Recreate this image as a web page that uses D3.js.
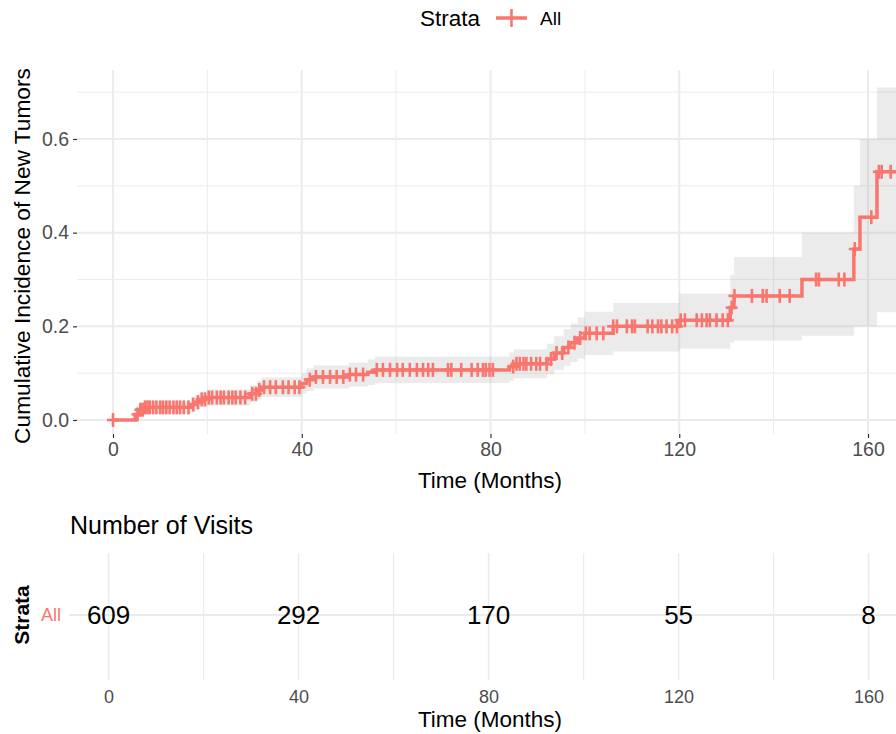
<!DOCTYPE html>
<html>
<head>
<meta charset="utf-8">
<script src="https://cdn.jsdelivr.net/npm/d3@7"></script>
<style>
  body { margin: 0; background: #fff; }
  text { font-family: "Liberation Sans", Arial, Helvetica, sans-serif; }
</style>
</head>
<body>
<svg id="chart" width="896" height="734"></svg>
<script>
// step function of the cumulative incidence (jump times + value after the jump)
var eventTimes = [0, 4.7, 5.5, 6.5, 16.5, 17.5, 18.5, 20, 29, 30.5, 31.5, 40, 41, 42.5, 50, 54, 55.5,
  84, 85, 92, 93.5, 95.5, 97, 98.5, 100, 106, 120, 130.8, 131.6, 146, 157, 158.3, 161.9];
var estimate = [0, 0.012, 0.022, 0.027, 0.033, 0.038, 0.044, 0.048, 0.056, 0.064, 0.07, 0.078, 0.086, 0.092, 0.097, 0.102, 0.107,
  0.114, 0.12, 0.13, 0.143, 0.155, 0.165, 0.175, 0.185, 0.2, 0.213, 0.24, 0.265, 0.30, 0.365, 0.433, 0.53];
var lower = [0, 0.003, 0.01, 0.014, 0.018, 0.022, 0.027, 0.031, 0.038, 0.044, 0.049, 0.056, 0.062, 0.067, 0.071, 0.075, 0.079,
  0.084, 0.089, 0.097, 0.107, 0.116, 0.124, 0.131, 0.139, 0.146, 0.152, 0.165, 0.17, 0.18, 0.2, 0.2, 0.23];
var upper = [0, 0.021, 0.034, 0.04, 0.048, 0.054, 0.061, 0.065, 0.074, 0.084, 0.091, 0.1, 0.11, 0.117, 0.123, 0.129, 0.135,
  0.144, 0.151, 0.163, 0.179, 0.194, 0.206, 0.219, 0.231, 0.25, 0.27, 0.31, 0.348, 0.40, 0.50, 0.60, 0.71];
var lastTime = 168;

// censored observations (the + marks)
var censorTimes = [0, 5.2, 5.8, 6.3, 6.8, 7.3, 7.8, 8.5, 9.2, 10, 10.6, 11.3, 12, 12.8, 13.5, 14.2, 15, 16, 17, 18, 18.8,
  19.5, 20.3, 21, 22, 22.8, 23.5, 24.5, 25.3, 26, 27, 28, 29.5, 30.3, 31, 32, 33.3, 34.5, 36, 37.2, 38.5, 39.5,
  41.7, 43, 44.5, 46, 47.4, 48.8, 50.2, 51.5, 53, 55.9, 57.2, 58.7, 60.2, 61.4, 62.9, 64.4, 65.7, 66.8, 67.8,
  71, 71.7, 73.8, 76, 77.3, 78.4, 79, 79.8, 80.5, 84.8, 85.5, 86.2, 87, 87.6, 88.6, 89.7, 90.5, 91.9, 92.8, 94,
  95.2, 96.5, 97.8, 99, 100.2, 101, 102.5, 103.9, 106, 106.8, 108.9, 110, 110.6, 113.3, 114.3, 115.5, 116.2,
  117.3, 118.5, 119.5, 120.3, 121.2, 123.7, 124.8, 125.8, 126.5, 127.9, 129.2, 130.3, 131.1, 131.7, 135.4,
  137.7, 138.5, 141.3, 143.4, 149, 149.6, 153.8, 155, 157.2, 160.7, 162.3, 162.9, 164.8];

// risk table
var riskTimes = [0, 40, 80, 120, 160];
var riskCounts = [609, 292, 170, 55, 8];

var xMajor = [0, 40, 80, 120, 160], xMinor = [20, 60, 100, 140];
var yMajor = [0, 0.2, 0.4, 0.6], yMinor = [0.1, 0.3, 0.5, 0.7];

var red = "#F8766D", grid = "#EBEBEB";
var svg = d3.select("#chart");

var x = d3.scaleLinear().domain([0, 160]).range([113, 868]),
    y = d3.scaleLinear().domain([0, 0.6]).range([420, 139]);
var panel = {left: 77, right: 896, top: 70, bottom: 434};

var steps = eventTimes.map(function(t, i) {
  return {t: t, est: estimate[i], lo: lower[i], hi: upper[i]};
});
steps.push({t: lastTime, est: estimate[estimate.length - 1], lo: lower[lower.length - 1], hi: upper[upper.length - 1]});

function valueAt(t) {
  var v = 0;
  steps.forEach(function(s) { if (s.t <= t) v = s.est; });
  return v;
}

var g = svg.append("g");

// grid
g.selectAll(".ymin").data(yMinor).enter().append("line")
  .attr("x1", panel.left).attr("x2", panel.right)
  .attr("y1", function(d) { return y(d); }).attr("y2", function(d) { return y(d); })
  .attr("stroke", grid).attr("stroke-width", 1);
g.selectAll(".xmin").data(xMinor).enter().append("line")
  .attr("y1", panel.top).attr("y2", panel.bottom)
  .attr("x1", function(d) { return x(d); }).attr("x2", function(d) { return x(d); })
  .attr("stroke", grid).attr("stroke-width", 1);
g.selectAll(".ymaj").data(yMajor).enter().append("line")
  .attr("x1", panel.left).attr("x2", panel.right)
  .attr("y1", function(d) { return y(d); }).attr("y2", function(d) { return y(d); })
  .attr("stroke", grid).attr("stroke-width", 2);
g.selectAll(".xmaj").data(xMajor).enter().append("line")
  .attr("y1", panel.top).attr("y2", panel.bottom)
  .attr("x1", function(d) { return x(d); }).attr("x2", function(d) { return x(d); })
  .attr("stroke", grid).attr("stroke-width", 2);

// confidence ribbon
var area = d3.area().curve(d3.curveStepAfter)
  .x(function(d) { return x(d.t); })
  .y0(function(d) { return y(d.lo); })
  .y1(function(d) { return y(d.hi); });
g.append("path").datum(steps).attr("d", area)
  .attr("fill", "#999999").attr("fill-opacity", 0.2);

// curve
var line = d3.line().curve(d3.curveStepAfter)
  .x(function(d) { return x(d.t); })
  .y(function(d) { return y(d.est); });
g.append("path").datum(steps).attr("d", line)
  .attr("fill", "none").attr("stroke", red).attr("stroke-width", 3.5);

// censor marks
var cross = g.selectAll(".cens").data(censorTimes).enter().append("g")
  .attr("transform", function(d) { return "translate(" + x(d) + "," + y(valueAt(d)) + ")"; });
cross.append("line").attr("x1", -6).attr("x2", 6).attr("stroke", red).attr("stroke-width", 2.6);
cross.append("line").attr("y1", -7).attr("y2", 7).attr("stroke", red).attr("stroke-width", 2.6);

// axes
var yAxis = g.append("g").attr("transform", "translate(" + panel.left + ",0)")
  .call(d3.axisLeft(y).tickValues(yMajor).tickFormat(d3.format(".1f")).tickSize(4).tickPadding(4));
var xAxis = g.append("g").attr("transform", "translate(0," + panel.bottom + ")")
  .call(d3.axisBottom(x).tickValues(xMajor).tickSize(4).tickPadding(4));
[yAxis, xAxis].forEach(function(a) {
  a.select(".domain").remove();
  a.selectAll(".tick line").attr("stroke", "#333333").attr("stroke-width", 1.2);
  a.selectAll(".tick text").attr("fill", "#4D4D4D").style("font-size", "19.5px")
    .style("font-family", "Liberation Sans, Arial, sans-serif");
});

svg.append("text").attr("x", 490).attr("y", 488).attr("text-anchor", "middle")
  .style("font-size", "22.5px").text("Time (Months)");
svg.append("text").attr("transform", "translate(30,256) rotate(-90)").attr("text-anchor", "middle")
  .style("font-size", "22.7px").text("Cumulative Incidence of New Tumors");

// legend
svg.append("text").attr("x", 420).attr("y", 26).style("font-size", "22.5px").text("Strata");
svg.append("line").attr("x1", 496).attr("x2", 527).attr("y1", 18).attr("y2", 18)
  .attr("stroke", red).attr("stroke-width", 3.5);
svg.append("line").attr("x1", 511.5).attr("x2", 511.5).attr("y1", 9).attr("y2", 27)
  .attr("stroke", red).attr("stroke-width", 2.6);
svg.append("text").attr("x", 540).attr("y", 25).style("font-size", "19px").text("All");

// risk table
var xt = d3.scaleLinear().domain([0, 160]).range([108.6, 868.6]);
var tbl = svg.append("g");
var rowY = 615;
tbl.selectAll(".tmin").data(xMinor).enter().append("line")
  .attr("y1", 553).attr("y2", 680)
  .attr("x1", function(d) { return xt(d); }).attr("x2", function(d) { return xt(d); })
  .attr("stroke", grid).attr("stroke-width", 1.2);
tbl.selectAll(".tmaj").data(xMajor).enter().append("line")
  .attr("y1", 553).attr("y2", 680)
  .attr("x1", function(d) { return xt(d); }).attr("x2", function(d) { return xt(d); })
  .attr("stroke", grid).attr("stroke-width", 1.5);
tbl.append("line").attr("x1", 69).attr("x2", 896).attr("y1", rowY).attr("y2", rowY)
  .attr("stroke", grid).attr("stroke-width", 2);

tbl.selectAll(".cnt").data(riskCounts).enter().append("text")
  .attr("x", function(d, i) { return xt(riskTimes[i]); }).attr("y", rowY + 9)
  .attr("text-anchor", "middle").style("font-size", "26px").text(function(d) { return d; });

var xtAxis = tbl.append("g").attr("transform", "translate(0,680)")
  .call(d3.axisBottom(xt).tickValues(xMajor).tickSize(0).tickPadding(10));
xtAxis.select(".domain").remove();
xtAxis.selectAll(".tick text").attr("fill", "#4D4D4D").style("font-size", "18px")
  .style("font-family", "Liberation Sans, Arial, sans-serif");

svg.append("text").attr("x", 70).attr("y", 534).style("font-size", "25px").text("Number of Visits");
svg.append("text").attr("x", 61).attr("y", rowY + 6).attr("text-anchor", "end")
  .attr("fill", red).style("font-size", "18px").text("All");
svg.append("text").attr("transform", "translate(29," + rowY + ") rotate(-90)").attr("text-anchor", "middle")
  .style("font-size", "21px").style("font-weight", "bold").text("Strata");
svg.append("text").attr("x", 490).attr("y", 727).attr("text-anchor", "middle")
  .style("font-size", "22.5px").text("Time (Months)");
</script>
</body>
</html>
